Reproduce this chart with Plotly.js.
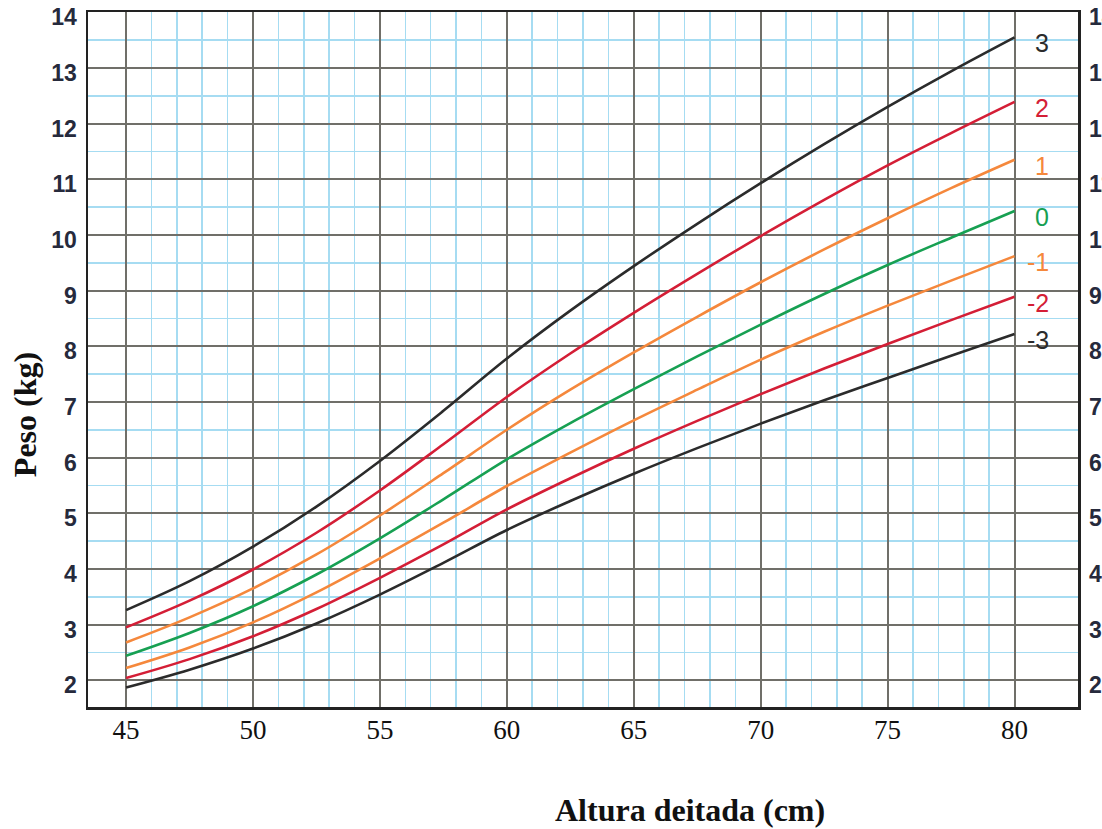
<!DOCTYPE html>
<html>
<head>
<meta charset="utf-8">
<script src="https://cdn.plot.ly/plotly-3.0.1.min.js"></script>
<style>
  html, body { margin: 0; padding: 0; background: #ffffff; }
  #chart { width: 1102px; height: 829px; }
</style>
</head>
<body>
<div id="chart"></div>
<script>
// Length (cm)
const heights = [45, 47.5, 50, 52.5, 55, 57.5, 60, 62.5, 65, 67.5, 70, 72.5, 75, 77.5, 80];

// Weight (kg) per z-score curve
const zPlus3  = [3.26, 3.78, 4.40, 5.12, 5.94, 6.84, 7.78, 8.64, 9.44, 10.20, 10.93, 11.63, 12.30, 12.94, 13.55];
const zPlus2  = [2.95, 3.43, 3.99, 4.65, 5.41, 6.24, 7.09, 7.87, 8.60, 9.30, 9.98, 10.63, 11.25, 11.83, 12.39];
const zPlus1  = [2.68, 3.13, 3.65, 4.26, 4.96, 5.72, 6.50, 7.22, 7.89, 8.53, 9.15, 9.74, 10.30, 10.84, 11.35];
const zZero   = [2.44, 2.85, 3.33, 3.90, 4.55, 5.25, 5.97, 6.62, 7.23, 7.82, 8.39, 8.94, 9.46, 9.95, 10.43];
const zMinus1 = [2.22, 2.59, 3.04, 3.58, 4.19, 4.83, 5.49, 6.09, 6.67, 7.22, 7.76, 8.26, 8.73, 9.18, 9.62];
const zMinus2 = [2.04, 2.38, 2.79, 3.28, 3.84, 4.44, 5.07, 5.63, 6.16, 6.66, 7.14, 7.60, 8.04, 8.47, 8.89];
const zMinus3 = [1.87, 2.19, 2.57, 3.02, 3.54, 4.11, 4.70, 5.22, 5.71, 6.17, 6.61, 7.03, 7.43, 7.83, 8.22];

const curveLabels = ["3", "2", "1", "0", "-1", "-2", "-3"];
const curveValues = [zPlus3, zPlus2, zPlus1, zZero, zMinus1, zMinus2, zMinus3];

const xTickVals = [45, 50, 55, 60, 65, 70, 75, 80];
const yTickVals = [2, 3, 4, 5, 6, 7, 8, 9, 10, 11, 12, 13, 14];

const xTitle = "Altura deitada (cm)";
const yTitle = "Peso (kg)";

// styles
const colors = ["#2b2b2b", "#d41e36", "#f5883c", "#17a052", "#f5883c", "#d41e36", "#2b2b2b"];
const xMinor = [];
for (let v = xTickVals[0]; v <= xTickVals[xTickVals.length - 1]; v++) if (v % 5 !== 0) xMinor.push(v);
const yMinor = [];
for (let v = yTickVals[0]; v < yTickVals[yTickVals.length - 1]; v++) yMinor.push(v + 0.5);

const traces = curveValues.map((vals, i) => ({
  x: heights, y: vals, type: "scatter", mode: "lines",
  line: { color: colors[i], width: 2.6, shape: "spline", smoothing: 1 },
  hoverinfo: "skip", showlegend: false
}));
// invisible trace to activate the right axis
traces.push({ x: heights, y: zZero, yaxis: "y2", type: "scatter", mode: "lines",
  line: { color: "rgba(0,0,0,0)", width: 0 }, hoverinfo: "skip", showlegend: false });

const annotations = curveLabels.map((t, i) => ({
  x: heights[heights.length - 1], y: curveValues[i][curveValues[i].length - 1],
  xref: "x", yref: "y", text: t, showarrow: false,
  xanchor: "right", yanchor: "middle", xshift: 36, yshift: -6,
  font: { family: "Liberation Sans, Arial, sans-serif", size: 25, color: colors[i] }
}));
annotations.push({
  text: "<b>" + xTitle + "</b>", xref: "paper", yref: "paper", x: 0.6076, y: -0.148,
  xanchor: "center", yanchor: "middle", showarrow: false,
  font: { family: "Liberation Serif, Times New Roman, serif", size: 32, color: "#111" }
});
annotations.push({
  text: "<b>" + yTitle + "</b>", xref: "paper", yref: "paper", x: -0.0636, y: 0.42,
  xanchor: "center", yanchor: "middle", showarrow: false, textangle: -90,
  font: { family: "Liberation Serif, Times New Roman, serif", size: 32, color: "#111" }
});

const yTickFont = { family: "Liberation Sans, Arial, sans-serif", size: 23, color: "#262a3c", weight: 700 };

const layout = {
  width: 1102, height: 829,
  margin: { l: 88, r: 24, t: 12, b: 122 },
  paper_bgcolor: "#ffffff", plot_bgcolor: "#ffffff",
  showlegend: false,
  xaxis: {
    range: [43.5, 82.5], tickmode: "array", tickvals: xTickVals,
    ticks: "", showgrid: true, gridcolor: "#706f69", gridwidth: 2,
    zeroline: false, showline: true, linecolor: "#222222", linewidth: 2.5, mirror: true,
    tickfont: { family: "Liberation Serif, Times New Roman, serif", size: 27, color: "#111" },
    ticklabelstandoff: -3,
    minor: { tickmode: "array", tickvals: xMinor, showgrid: true, gridcolor: "#a6dcf2", gridwidth: 1.6, ticks: "" }
  },
  yaxis: {
    range: [1.52, 14.005], tickmode: "array", tickvals: yTickVals,
    ticks: "", showgrid: true, gridcolor: "#706f69", gridwidth: 2,
    zeroline: false, showline: true, linecolor: "#222222", linewidth: 2.5, mirror: true,
    tickfont: yTickFont, ticklabelstandoff: 4, ticklabelshift: 5,
    minor: { tickmode: "array", tickvals: yMinor, showgrid: true, gridcolor: "#a6dcf2", gridwidth: 1.6, ticks: "" }
  },
  yaxis2: {
    overlaying: "y", side: "right", range: [1.52, 14.005], tickmode: "array", tickvals: yTickVals,
    ticks: "", showgrid: false, zeroline: false, showline: false,
    tickfont: yTickFont, ticklabelstandoff: 10, ticklabelshift: 5
  },
  annotations: annotations
};

Plotly.newPlot("chart", traces, layout, { staticPlot: true, displayModeBar: false });
</script>
</body>
</html>
